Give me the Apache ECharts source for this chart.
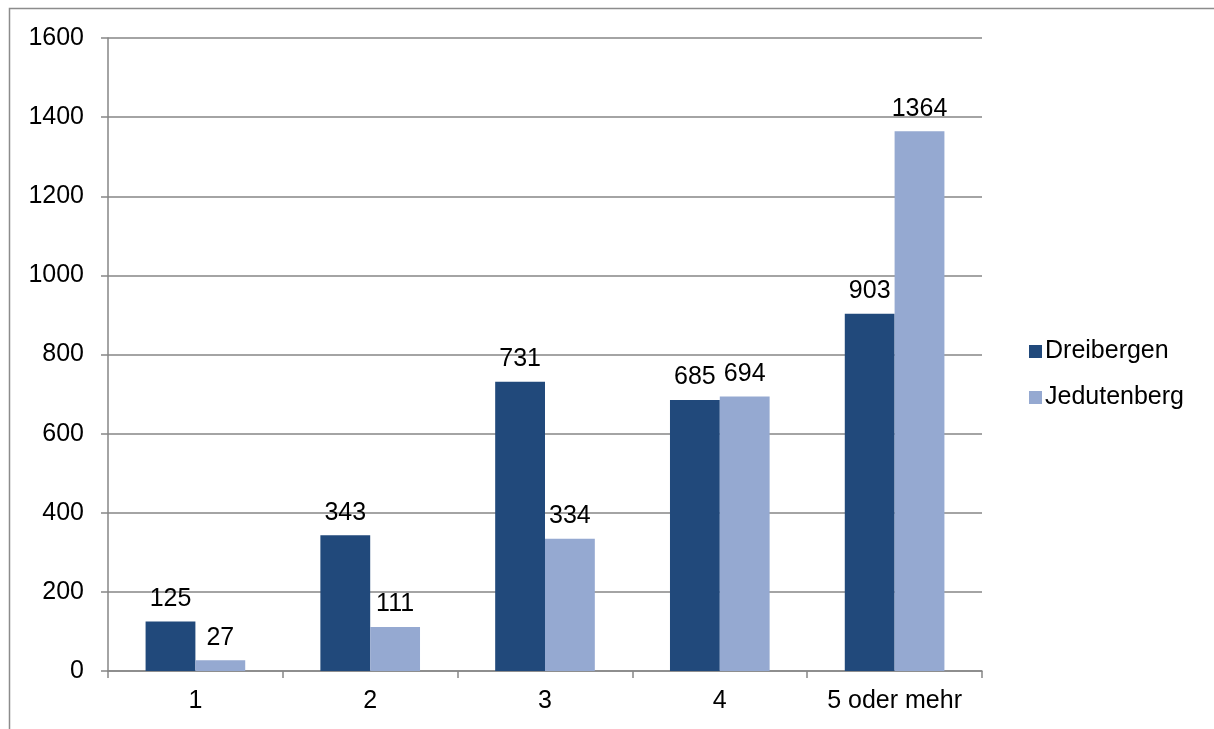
<!DOCTYPE html>
<html>
<head>
<meta charset="utf-8">
<script src="https://cdn.jsdelivr.net/npm/echarts@6/dist/echarts.min.js"></script>
<style>
  html, body { margin: 0; padding: 0; background: #fff; }
  #chart { width: 1214px; height: 729px; }
</style>
</head>
<body>
<div id="chart"></div>
<script>
// Household size categories and counts per district
const categories = ['1', '2', '3', '4', '5 oder mehr'];
const dreibergen = [125, 343, 731, 685, 903];
const jedutenberg = [27, 111, 334, 694, 1364];
const seriesNames = ['Dreibergen', 'Jedutenberg'];

const FONT = 'Liberation Sans, Arial, sans-serif';
const FONT_SIZE = 25;
const AXIS_GREY = '#868686';

const chart = echarts.init(document.getElementById('chart'));

const labelStyle = {
  show: true,
  position: 'top',
  distance: 10,
  color: '#000',
  fontSize: FONT_SIZE,
  fontFamily: FONT
};

chart.setOption({
  animation: false,
  graphic: [{
    type: 'rect',
    shape: { x: 9.5, y: 8.5, width: 1400, height: 900 },
    style: { fill: 'none', stroke: '#8c8c8c', lineWidth: 1.5 },
    silent: true
  }],
  grid: { left: 108, right: 232, top: 38, bottom: 58 },
  legend: {
    orient: 'vertical',
    left: 1024,
    top: 334,
    itemWidth: 13,
    itemHeight: 13,
    itemGap: 21,
    icon: 'rect',
    textStyle: { fontSize: FONT_SIZE, fontFamily: FONT, color: '#000', padding: [0, 0, 0, -2] },
    data: seriesNames
  },
  xAxis: {
    type: 'category',
    data: categories,
    axisLine: { lineStyle: { color: AXIS_GREY, width: 1.5 } },
    axisTick: { show: true, length: 7, interval: 0, alignWithLabel: false, lineStyle: { color: AXIS_GREY, width: 1.5 } },
    axisLabel: {
      interval: 0,
      hideOverlap: false,
      margin: 18,
      fontSize: FONT_SIZE,
      fontFamily: FONT,
      color: '#000'
    }
  },
  yAxis: {
    type: 'value',
    min: 0,
    max: 1600,
    interval: 200,
    axisLine: { show: true, lineStyle: { color: AXIS_GREY, width: 1.5 } },
    axisTick: { show: true, length: 7, lineStyle: { color: AXIS_GREY, width: 1.5 } },
    splitLine: { show: true, lineStyle: { color: AXIS_GREY, width: 1.5 } },
    axisLabel: {
      margin: 24,
      fontSize: FONT_SIZE,
      fontFamily: FONT,
      color: '#000',
      formatter: (v) => String(v)
    }
  },
  series: [
    {
      name: seriesNames[0],
      type: 'bar',
      data: dreibergen,
      barGap: '0%',
      barCategoryGap: '43%',
      itemStyle: { color: '#21497B' },
      label: labelStyle
    },
    {
      name: seriesNames[1],
      type: 'bar',
      data: jedutenberg,
      itemStyle: { color: '#95A9D1' },
      label: labelStyle
    }
  ]
});
</script>
</body>
</html>
